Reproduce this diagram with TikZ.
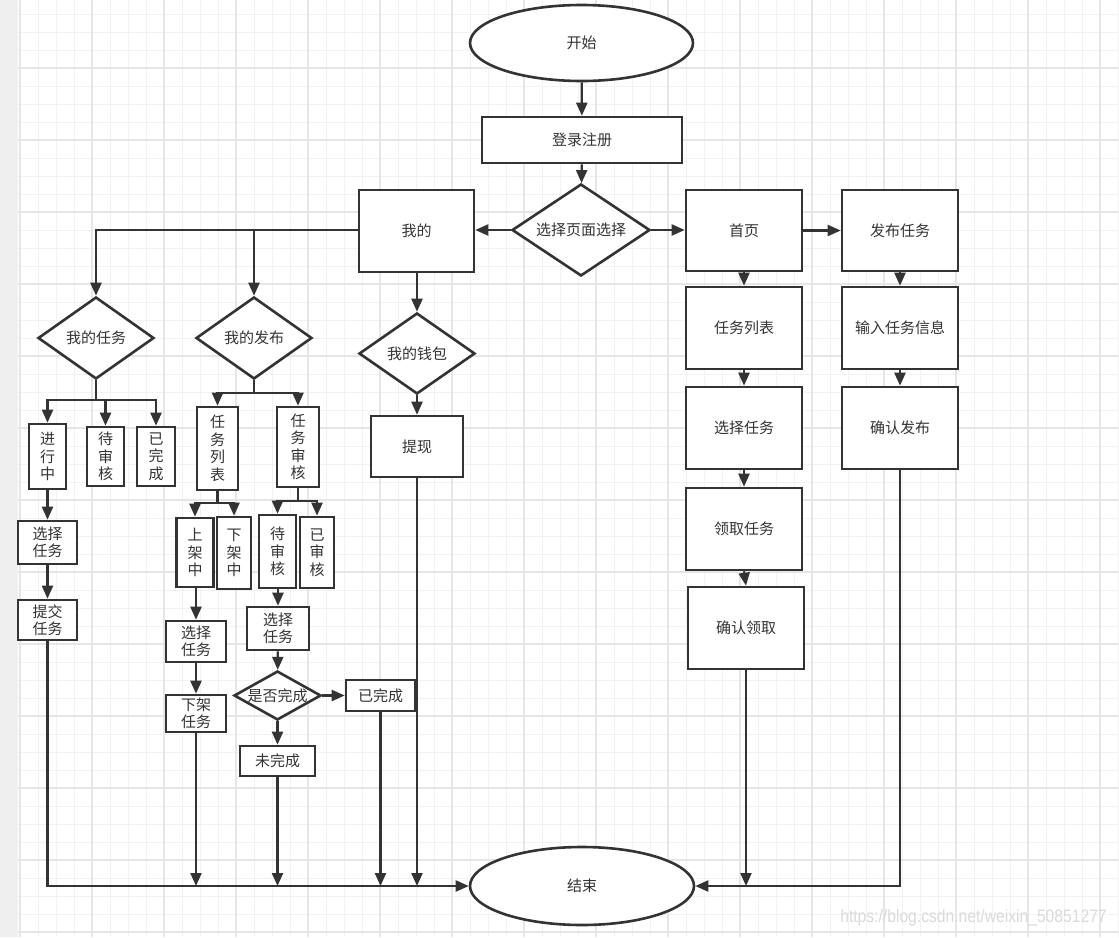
\documentclass[tikz,border=0pt]{standalone}
\usepackage{fontspec}
\newfontfamily\cjk{Noto Sans CJK SC}
\newfontfamily\wmfont{Liberation Sans}
\usetikzlibrary{shapes.geometric,arrows.meta}
\definecolor{ink}{HTML}{333333}
\definecolor{gminor}{HTML}{F2F2F2}
\definecolor{gmajor}{HTML}{E6E6E6}
\definecolor{strip}{HTML}{EFEFEF}
\definecolor{wm}{HTML}{DADADA}
\tikzset{
  txt/.style={font=\cjk\fontsize{15}{17.5}\selectfont, text=ink, align=center},
  rbox/.style={txt, draw=ink, fill=white, line width=2.6pt, rectangle, inner sep=0pt},
  dbox/.style={txt, draw=ink, fill=white, line width=2.6pt, diamond, inner sep=0pt, shape aspect=#1},
  ebox/.style={txt, draw=ink, fill=white, line width=2.6pt, ellipse, inner sep=0pt},
  conn/.style={draw=ink, line width=2.2pt, -{Triangle[length=13pt,width=11pt]}},
  plain/.style={draw=ink, line width=2.2pt},
}
\begin{document}
\begin{tikzpicture}[x=1pt,y=-1pt]
\useasboundingbox (0,0) rectangle (1119,937);
% background
\fill[white] (0,0) rectangle (1119,937);
\fill[strip] (0,0) rectangle (18,937);
\foreach \k in {0,...,61} {
  \pgfmathtruncatemacro{\xx}{20+18*\k}
  \draw[gminor, line width=1pt] (\xx,0) -- (\xx,937);
}
\foreach \k in {0,...,51} {
  \pgfmathtruncatemacro{\yy}{14+18*\k}
  \draw[gminor, line width=1pt] (18,\yy) -- (1119,\yy);
}
\foreach \k in {0,...,15} {
  \pgfmathtruncatemacro{\xx}{20+72*\k}
  \draw[gmajor, line width=1.2pt] (\xx,0) -- (\xx,937);
}
\foreach \k in {0,...,12} {
  \pgfmathtruncatemacro{\yy}{68+72*\k}
  \draw[gmajor, line width=1.2pt] (18,\yy) -- (1119,\yy);
}

% main column
\node[ebox, minimum width=223pt, minimum height=76pt] (start) at (581.5,43) {开始};
\node[rbox, minimum width=200pt, minimum height=46pt] (login) at (582,140) {登录注册};
\node[dbox=1.5, minimum width=138pt, minimum height=92pt] (sel) at (581,230) {选择页面选择};
\node[rbox, minimum width=115pt, minimum height=82pt] (wode) at (416.5,231) {我的};
\node[rbox, minimum width=116pt, minimum height=81pt] (home) at (744,230.5) {首页};
\node[rbox, minimum width=116pt, minimum height=81pt] (pub) at (900,230.5) {发布任务};

% right columns
\node[rbox, minimum width=116pt, minimum height=82pt] (rlist) at (744,328) {任务列表};
\node[rbox, minimum width=116pt, minimum height=82pt] (rsel) at (744,428) {选择任务};
\node[rbox, minimum width=116pt, minimum height=82pt] (rget) at (744,529) {领取任务};
\node[rbox, minimum width=116pt, minimum height=82pt] (rconf) at (746,628) {确认领取};
\node[rbox, minimum width=116pt, minimum height=82pt] (pinfo) at (900,328) {输入任务信息};
\node[rbox, minimum width=116pt, minimum height=82pt] (pconf) at (900,428) {确认发布};

% 我的 branches
\node[dbox=1.4, minimum width=116pt, minimum height=82pt] (wdrw) at (96,338) {我的任务};
\node[dbox=1.4, minimum width=116pt, minimum height=82pt] (wdfb) at (254,338) {我的发布};
\node[dbox=1.4, minimum width=116pt, minimum height=81pt] (wallet) at (417,353.5) {我的钱包};
\node[rbox, minimum width=92pt, minimum height=61pt] (tixian) at (417,446.5) {提现};

% 我的任务 sub
\node[rbox, minimum width=37pt, minimum height=65pt] (jxz) at (47.5,456.5) {进\\行\\中};
\node[rbox, minimum width=37pt, minimum height=59pt] (dsh1) at (105.5,456.5) {待\\审\\核};
\node[rbox, minimum width=38pt, minimum height=59pt] (ywc1) at (156,456.5) {已\\完\\成};
\node[rbox, minimum width=59pt, minimum height=43pt] (sel1) at (47.5,542.5) {选择\\任务};
\node[rbox, minimum width=59pt, minimum height=40pt] (tj) at (47.5,620) {提交\\任务};

% 我的发布 sub
\node[rbox, minimum width=41pt, minimum height=83pt] (rwlb) at (217.5,448.5) {任\\务\\列\\表};
\node[rbox, minimum width=42pt, minimum height=80pt] (rwsh) at (298,447) {任\\务\\审\\核};
\node[rbox, minimum width=37pt, minimum height=69pt] (sjz) at (195,552.5) {上\\架\\中};
\node[rbox, minimum width=34pt, minimum height=72pt] (xjz) at (234,553) {下\\架\\中};
\node[rbox, minimum width=37pt, minimum height=73pt] (dsh2) at (277.5,551.5) {待\\审\\核};
\node[rbox, minimum width=34pt, minimum height=71pt] (ysh) at (317,552.5) {已\\审\\核};
\node[rbox, minimum width=60pt, minimum height=41pt] (sel2) at (196,641.5) {选择\\任务};
\node[rbox, minimum width=60pt, minimum height=37pt] (xjrw) at (196,713.5) {下架\\任务};
\node[rbox, minimum width=62pt, minimum height=43pt] (sel3) at (278,628.5) {选择\\任务};
\node[dbox=1.78, minimum width=87pt, minimum height=49pt] (sfwc) at (277.5,695.5) {是否完成};
\node[rbox, minimum width=69pt, minimum height=31pt] (ywc2) at (380.5,695.5) {已完成};
\node[rbox, minimum width=75pt, minimum height=30pt] (wwc) at (277.5,761) {未完成};

% end
\node[ebox, minimum width=224pt, minimum height=78pt] (end) at (582,886) {结束};

% connectors: main
\draw[conn] (start) -- (login);
\draw[conn] (login) -- (sel);
\draw[conn] (sel.west) -- (wode.east |- sel.west);
\draw[conn] (sel.east) -- (home.west |- sel.east);
\draw[conn] (home) -- (pub);
\draw[conn] (home) -- (rlist);
\draw[conn] (rlist) -- (rsel);
\draw[conn] (rsel) -- (rget);
\draw[conn] (rget.south) -- (rconf.north);
\draw[conn] (pub) -- (pinfo);
\draw[conn] (pinfo) -- (pconf);

% 我的 to sub diamonds
\coordinate (wl) at (wode.west |- 0,230);
\draw[conn] (wl) -| (wdrw.north);
\draw[conn] (wl) -| (wdfb.north);
\draw[conn] (wode.south -| wallet.north) -- (wallet.north);
\draw[conn] (wallet) -- (tixian);

% 我的任务 branches
\coordinate (b1) at (96,400);
\draw[plain] (wdrw.south) -- (b1);
\draw[conn] (b1) -| (jxz.north);
\draw[conn] (b1) -| (dsh1.north);
\draw[conn] (b1) -| (ywc1.north);
\draw[conn] (jxz) -- (sel1);
\draw[conn] (sel1) -- (tj);

% 我的发布 branches
\coordinate (b2) at (254,393);
\draw[plain] (wdfb.south) -- (b2);
\draw[conn] (b2) -| (rwlb.north);
\draw[conn] (b2) -| (rwsh.north);
\coordinate (b3) at (217.5,503);
\draw[plain] (rwlb.south) -- (b3);
\draw[conn] (b3) -| (sjz.north);
\draw[conn] (b3) -| (xjz.north);
\coordinate (b4) at (298,501);
\draw[plain] (rwsh.south) -- (b4);
\draw[conn] (b4) -| (dsh2.north);
\draw[conn] (b4) -| (ysh.north);
\draw[conn] (sjz.south -| sel2.north) -- (sel2.north);
\draw[conn] (sel2) -- (xjrw);
\draw[conn] (dsh2.south -| sel3.north) -- (sel3.north);
\draw[conn] (sel3) -- (sfwc);
\draw[conn] (sfwc) -- (ywc2);
\draw[conn] (sfwc) -- (wwc);

% to end
\draw[conn] (tj.south) |- (end.west);
\draw[conn] (xjrw.south) -- (xjrw.south |- end.west);
\draw[conn] (wwc.south) -- (wwc.south |- end.west);
\draw[conn] (ywc2.south) -- (ywc2.south |- end.west);
\draw[conn] (tixian.south) -- (tixian.south |- end.west);
\draw[conn] (pconf.south) |- (end.east);
\draw[conn] (rconf.south) -- (rconf.south |- end.east);

% watermark
\node[font=\wmfont\fontsize{18}{18}\selectfont, text=wm, xscale=0.87, inner sep=0pt] (wmk) at (973.5,918) {https://blog.csdn.net/weixin\_50851277};
\end{tikzpicture}
\end{document}
